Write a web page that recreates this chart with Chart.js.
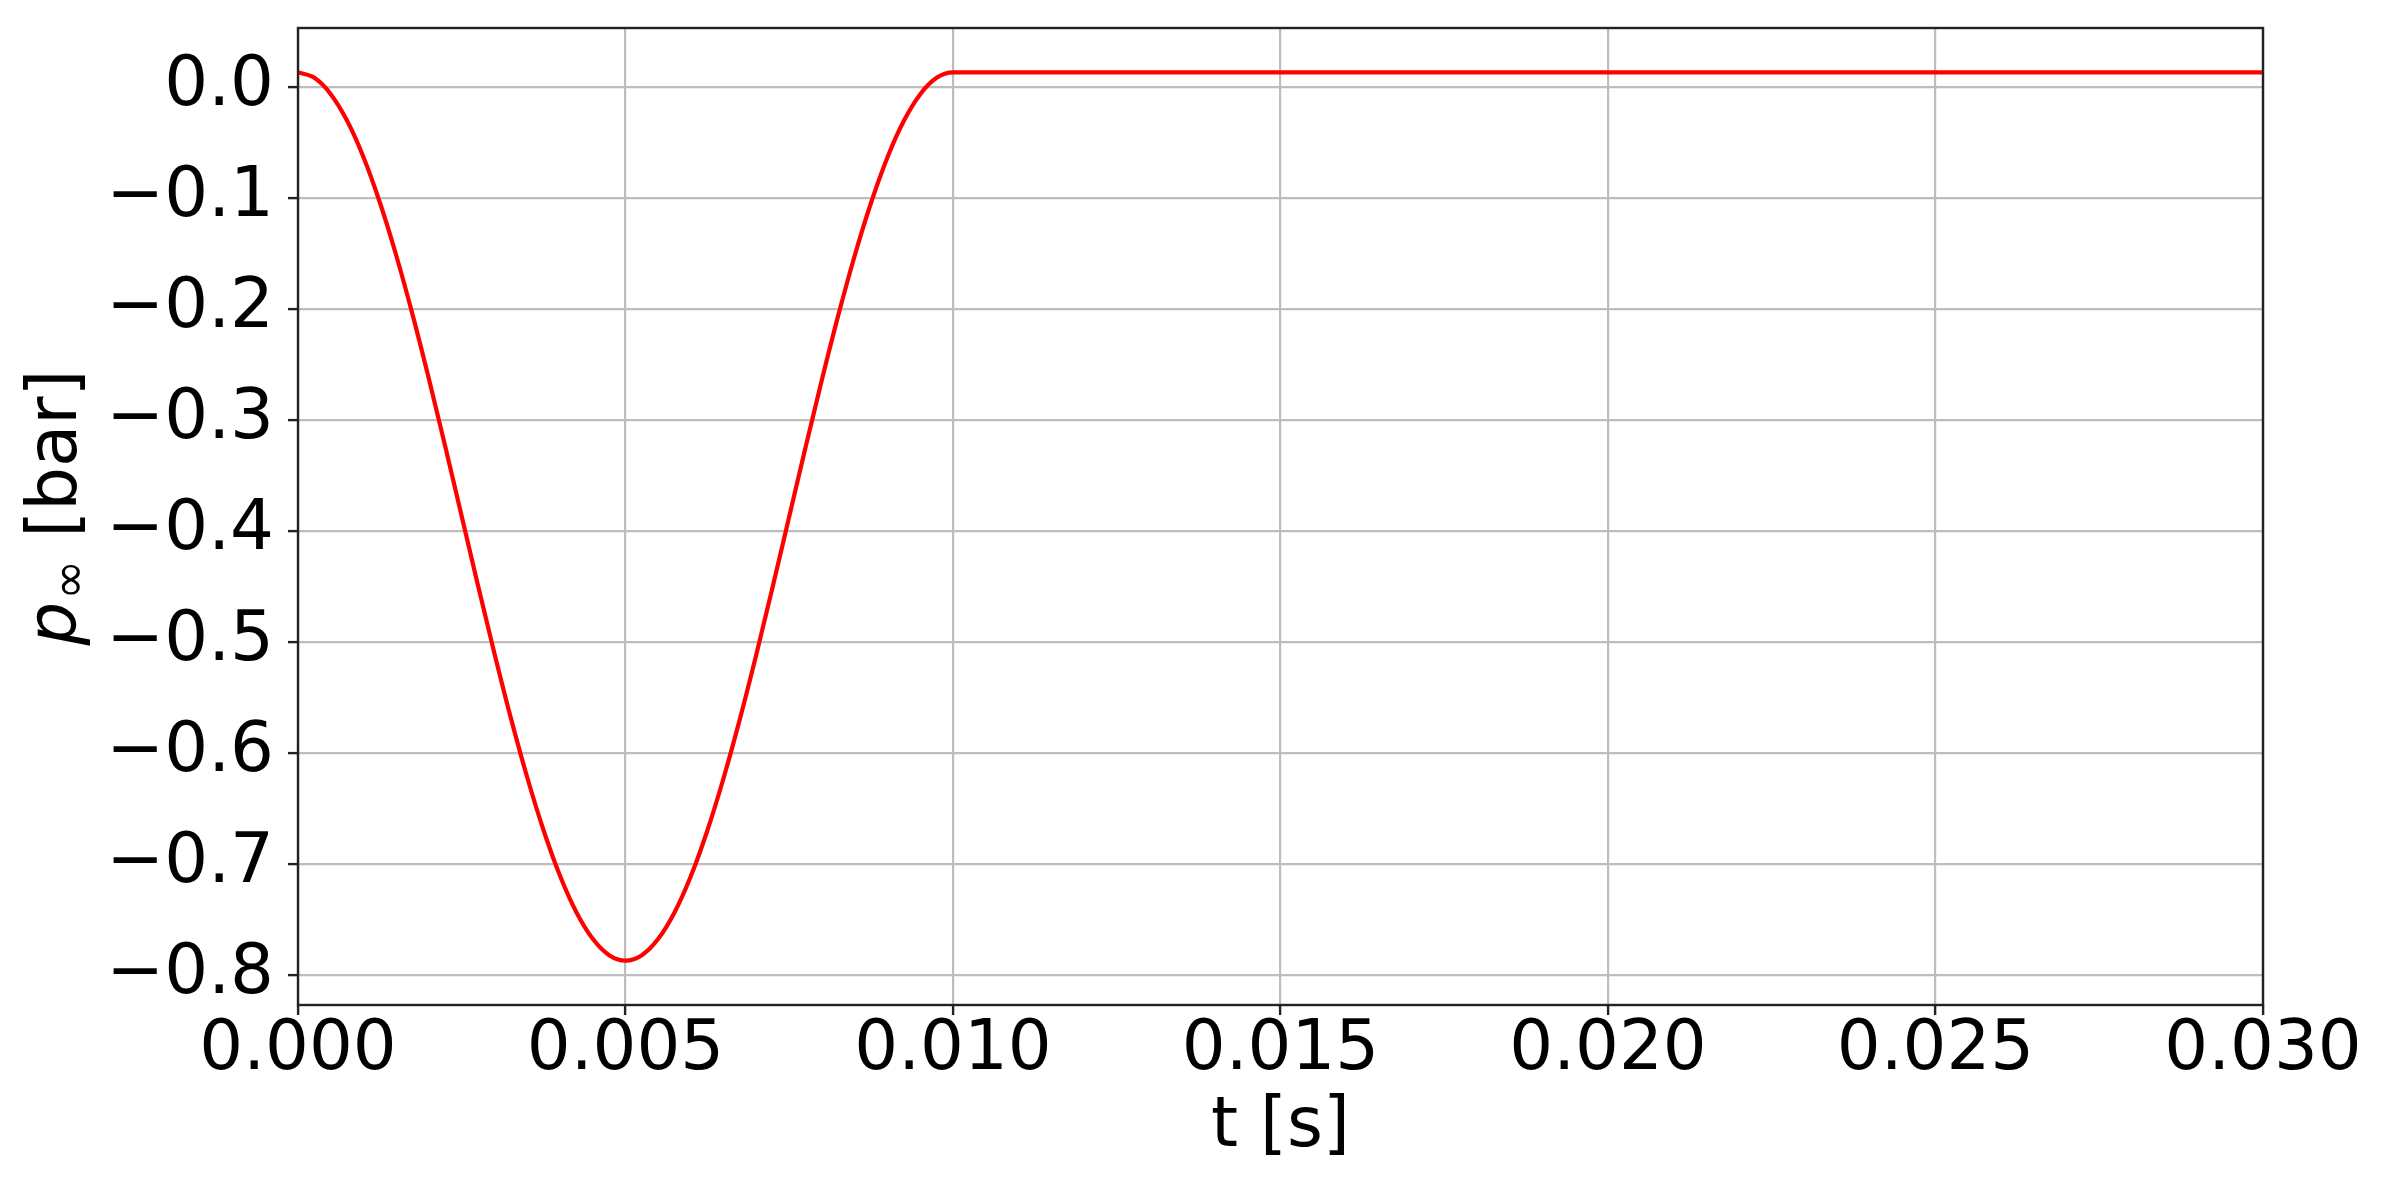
<!DOCTYPE html>
<html>
<head>
<meta charset="utf-8">
<script src="https://cdn.jsdelivr.net/npm/chart.js@4.4.0/dist/chart.umd.min.js"></script>
<style>
  html, body { margin: 0; padding: 0; background: #ffffff; }
  canvas { display: block; }
</style>
</head>
<body>
<canvas id="chart" width="2382" height="1186"></canvas>
<script>
// time samples [s]
const times = [
  0, 0.00025, 0.0005, 0.00075, 0.001, 0.00125, 0.0015, 0.00175, 0.002, 0.00225,
  0.0025, 0.00275, 0.003, 0.00325, 0.0035, 0.00375, 0.004, 0.00425, 0.0045, 0.00475,
  0.005, 0.00525, 0.0055, 0.00575, 0.006, 0.00625, 0.0065, 0.00675, 0.007, 0.00725,
  0.0075, 0.00775, 0.008, 0.00825, 0.0085, 0.00875, 0.009, 0.00925, 0.0095, 0.00975,
  0.01, 0.03
];
// p_inf [bar]
const pressure = [
  0.0133, 0.0084, -0.0063, -0.0303, -0.0631, -0.1039, -0.1516, -0.2051, -0.2631, -0.3241,
  -0.3867, -0.4493, -0.5103, -0.5683, -0.6218, -0.6695, -0.7103, -0.7431, -0.7671, -0.7818,
  -0.7867, -0.7818, -0.7671, -0.7431, -0.7103, -0.6695, -0.6218, -0.5683, -0.5103, -0.4493,
  -0.3867, -0.3241, -0.2631, -0.2051, -0.1516, -0.1039, -0.0631, -0.0303, -0.0063, 0.0084,
  0.0133, 0.0133
];
const xTicks = [0, 0.005, 0.01, 0.015, 0.02, 0.025, 0.03];
const yTicks = [0, -0.1, -0.2, -0.3, -0.4, -0.5, -0.6, -0.7, -0.8];

Chart.defaults.font.family = "'DejaVu Sans', sans-serif";
Chart.defaults.color = "#000";

const FONT_SIZE = 69;

// frame around the plot area, like matplotlib spines
const framePlugin = {
  id: "frame",
  afterDatasetsDraw(chart) {
    const { ctx, chartArea: a } = chart;
    ctx.save();
    ctx.strokeStyle = "#222";
    ctx.lineWidth = 2.4;
    ctx.strokeRect(a.left, a.top, a.right - a.left, a.bottom - a.top);
    ctx.restore();
  },
};

// y label with italic p and subscript infinity
const yLabelPlugin = {
  id: "yLabel",
  afterDraw(chart) {
    const { ctx, chartArea: a } = chart;
    const main = FONT_SIZE + "px 'DejaVu Sans'";
    const ital = "italic " + FONT_SIZE + "px 'DejaVu Sans'";
    const sub = Math.round(FONT_SIZE * 0.7) + "px 'DejaVu Sans'";
    ctx.save();
    ctx.fillStyle = "#000";
    ctx.textBaseline = "alphabetic";
    ctx.font = ital;
    const wp = ctx.measureText("p").width;
    ctx.font = sub;
    const wi = ctx.measureText("\u221e").width;
    ctx.font = main;
    const wb = ctx.measureText(" [bar]").width;
    const total = wp + wi + wb;
    ctx.translate(76, (a.top + a.bottom) / 2 - 8);
    ctx.rotate(-Math.PI / 2);
    let x = -total / 2;
    ctx.font = ital;
    ctx.fillText("p", x, 0);
    x += wp + 2;
    ctx.font = sub;
    ctx.fillText("\u221e", x, 9);
    x += wi;
    ctx.font = main;
    ctx.fillText(" [bar]", x, 0);
    ctx.restore();
  },
};

const ctx = document.getElementById("chart").getContext("2d");

new Chart(ctx, {
  type: "line",
  data: {
    datasets: [
      {
        data: times.map((t, i) => ({ x: t, y: pressure[i] })),
        borderColor: "#ff0000",
        borderWidth: 4.2,
        pointRadius: 0,
        cubicInterpolationMode: "monotone",
        fill: false,
      },
    ],
  },
  options: {
    responsive: false,
    animation: false,
    events: [],
    layout: { padding: { top: 28, right: 119, left: 0, bottom: 0 } },
    plugins: {
      legend: { display: false },
      tooltip: { enabled: false },
    },
    scales: {
      x: {
        type: "linear",
        min: 0,
        max: 0.03,
        afterBuildTicks: (scale) => {
          scale.ticks = xTicks.map((v) => ({ value: v }));
        },
        afterFit: (scale) => {
          scale.height = 181;
          scale.paddingLeft = 0;
          scale.paddingRight = 0;
        },
        ticks: {
          font: { size: FONT_SIZE, lineHeight: 1 },
          padding: 2,
          maxRotation: 0,
          autoSkip: false,
          callback: (v) => Number(v).toFixed(3),
        },
        grid: {
          color: "#bdbdbd",
          lineWidth: 2.2,
          tickColor: "#222",
          tickWidth: 2.4,
          tickLength: 10,
        },
        border: { display: false },
        title: {
          display: true,
          text: "t [s]",
          font: { size: FONT_SIZE, lineHeight: 1 },
          padding: { top: 0, bottom: 23 },
        },
      },
      y: {
        type: "linear",
        min: -0.8267,
        max: 0.0533,
        afterBuildTicks: (scale) => {
          scale.ticks = yTicks.map((v) => ({ value: v }));
        },
        afterFit: (scale) => {
          scale.width = 298;
          scale.paddingTop = 0;
          scale.paddingBottom = 0;
        },
        ticks: {
          font: { size: FONT_SIZE, lineHeight: 1 },
          padding: 14,
          autoSkip: false,
          callback: (v) => {
            const s = Math.abs(v).toFixed(1);
            return v < -1e-9 ? "\u2212" + s : s;
          },
        },
        grid: {
          color: "#bdbdbd",
          lineWidth: 2.2,
          tickColor: "#222",
          tickWidth: 2.4,
          tickLength: 10,
        },
        border: { display: false },
      },
    },
  },
  plugins: [framePlugin, yLabelPlugin],
});
</script>
</body>
</html>
